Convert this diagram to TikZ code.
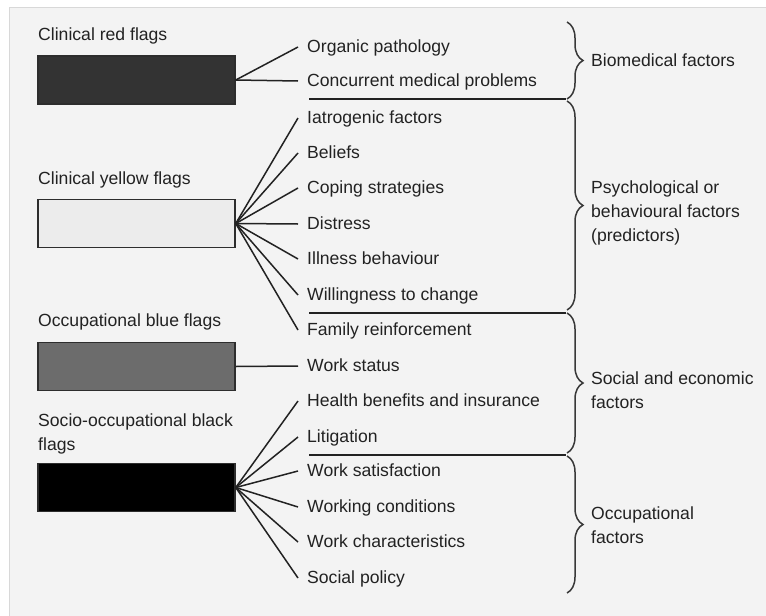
\documentclass[tikz,border=0pt]{standalone}
\usepackage{fontspec}
\setmainfont{Liberation Sans}
\usetikzlibrary{decorations.pathreplacing}
\definecolor{paper}{RGB}{243,243,243}
\definecolor{paperline}{RGB}{216,216,216}
\definecolor{ink}{RGB}{34,34,34}
\definecolor{boxline}{RGB}{45,45,45}
\definecolor{redflag}{RGB}{51,51,51}
\definecolor{yellowflag}{RGB}{236,236,236}
\definecolor{blueflag}{RGB}{108,108,108}
\definecolor{blackflag}{RGB}{0,0,0}

\tikzset{
  flagbox/.style={draw=boxline,line width=1.5pt,minimum width=197pt,minimum height=48pt,inner sep=0pt},
  factor/.style={anchor=west,inner xsep=9pt,inner ysep=0pt,text height=15pt,text depth=4pt,text=ink},
  flaglabel/.style={anchor=west,inner sep=0pt,text height=15pt,text depth=4pt,text=ink},
  grouplabel/.style={anchor=west,inner sep=0pt,align=left,text=ink},
  spoke/.style={draw=ink,line width=1.5pt},
  divider/.style={draw=ink,line width=1.5pt},
  groupbrace/.style={draw=ink!90,line width=1.5pt,decorate,decoration={brace,amplitude=16pt}}
}

\begin{document}
\begin{tikzpicture}[x=1pt,y=-1pt,font=\fontsize{17.6}{24}\selectfont]
\useasboundingbox (0,0) rectangle (766,616);
\fill[white] (0,0) rectangle (766,616);
\filldraw[fill=paper,draw=paperline,line width=1.5pt] (9.5,7.5) rectangle (800,650);

% flags
\node[flaglabel] (redlbl) at (38,35) {Clinical red flags};
\node[flagbox,fill=redflag] (redbox) at (136.5,80) {};
\node[flaglabel] (yellowlbl) at (38,179) {Clinical yellow flags};
\node[flagbox,fill=yellowflag] (yellowbox) at (136.5,223.5) {};
\node[flaglabel] (bluelbl) at (38,321) {Occupational blue flags};
\node[flagbox,fill=blueflag] (bluebox) at (136.5,366.5) {};
\node[grouplabel] (blacklbl) at (38,434) {Socio-occupational black\\flags};
\node[flagbox,fill=blackflag] (blackbox) at (136.5,487.5) {};

% factors
\node[factor] (org) at (298,47) {Organic pathology};
\node[factor] (con) at (298,81) {Concurrent medical problems};
\node[factor] (iat) at (298,118) {Iatrogenic factors};
\node[factor] (bel) at (298,153) {Beliefs};
\node[factor] (cop) at (298,188) {Coping strategies};
\node[factor] (dis) at (298,224) {Distress};
\node[factor] (ill) at (298,259) {Illness behaviour};
\node[factor] (wil) at (298,295) {Willingness to change};
\node[factor] (fam) at (298,330) {Family reinforcement};
\node[factor] (wst) at (298,366) {Work status};
\node[factor] (hea) at (298,401) {Health benefits and insurance};
\node[factor] (lit) at (298,437) {Litigation};
\node[factor] (wsa) at (298,471) {Work satisfaction};
\node[factor] (wco) at (298,507) {Working conditions};
\node[factor] (wch) at (298,542) {Work characteristics};
\node[factor] (spo) at (298,578) {Social policy};

\draw[spoke] (redbox.east) -- (org.west);
\draw[spoke] (redbox.east) -- (con.west);
\draw[spoke] (yellowbox.east) -- (iat.west);
\draw[spoke] (yellowbox.east) -- (bel.west);
\draw[spoke] (yellowbox.east) -- (cop.west);
\draw[spoke] (yellowbox.east) -- (dis.west);
\draw[spoke] (yellowbox.east) -- (ill.west);
\draw[spoke] (yellowbox.east) -- (wil.west);
\draw[spoke] (yellowbox.east) -- (fam.west);
\draw[spoke] (bluebox.east) -- (wst.west);
\draw[spoke] (blackbox.east) -- (hea.west);
\draw[spoke] (blackbox.east) -- (lit.west);
\draw[spoke] (blackbox.east) -- (wsa.west);
\draw[spoke] (blackbox.east) -- (wco.west);
\draw[spoke] (blackbox.east) -- (wch.west);
\draw[spoke] (blackbox.east) -- (spo.west);

% group dividers
\draw[divider] (309,99) -- (566,99);
\draw[divider] (309,313) -- (566,313);
\draw[divider] (309,455) -- (566,455);

% braces and groups
\draw[groupbrace] (567,22) -- (567,99);
\draw[groupbrace] (567,101) -- (567,310);
\draw[groupbrace] (567,313) -- (567,453);
\draw[groupbrace] (567,456) -- (567,593);
\node[flaglabel] (bio) at (591,61) {Biomedical factors};
\node[grouplabel] (psy) at (591,213) {Psychological or\\behavioural factors\\(predictors)};
\node[grouplabel] (soc) at (591,390.5) {Social and economic\\factors};
\node[grouplabel] (occ) at (591,525.5) {Occupational\\factors};
\end{tikzpicture}
\end{document}
